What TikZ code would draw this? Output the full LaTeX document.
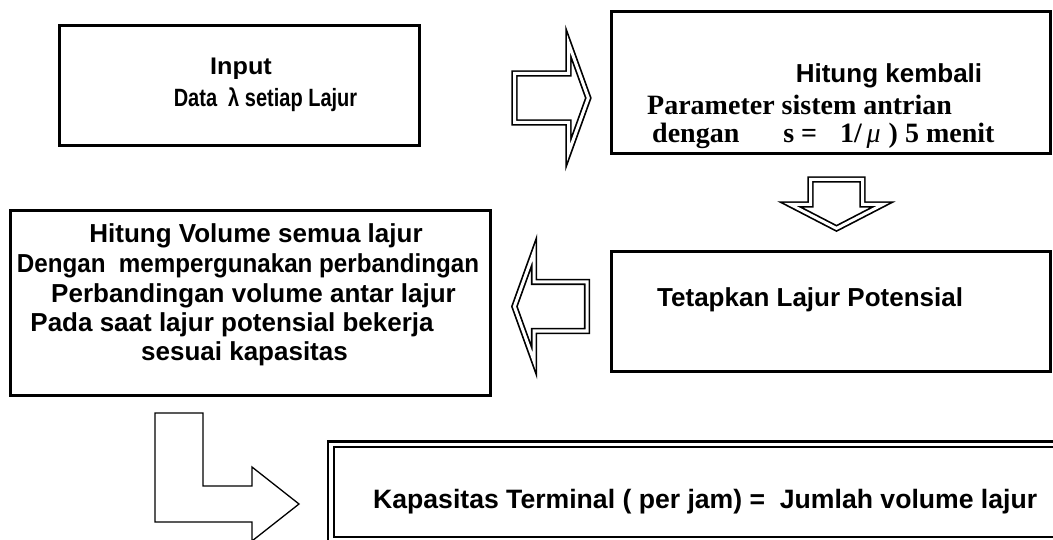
\documentclass[tikz,border=0pt]{standalone}
\usepackage{fontspec}
\setmainfont{Liberation Sans}
\newfontfamily\timesfont{Liberation Serif}
\usepackage{graphicx}

\newcommand{\widen}[2]{\scalebox{#1}[1]{#2}}

\tikzset{
    box/.style={draw, line width=3pt},
    hollowarrow/.style={draw, double, line width=1.7pt, double distance=3pt, line join=miter},
    bentarrow/.style={draw, line width=1.3pt, line join=miter},
    lbl/.style={inner sep=0pt, anchor=base, font=\bfseries\fontsize{26}{30}\selectfont},
    tlbl/.style={inner sep=0pt, anchor=base west, font=\timesfont\bfseries\fontsize{28}{32}\selectfont},
}

\begin{document}
\begin{tikzpicture}[x=1pt, y=-1pt]
    \useasboundingbox (0,0) rectangle (1053,540);
    \clip (0,0) rectangle (1053,540);

    % Boxes
    \draw[box] (59,25.5) rectangle (419,146);
    \draw[box] (611,12) rectangle (1050,154);
    \draw[box] (611,251.5) rectangle (1050,371);
    \draw[box] (10.5,211) rectangle (490.5,395);

    % Double frame, runs off the page
    \draw[line width=2.3pt] (328,441.5) rectangle (1070,545);
    \draw[line width=2pt] (333.7,446.7) rectangle (1062,537.3);

    % Hollow arrows
    \draw[hollowarrow] (514.5,73.5) -- (568.5,73.5) -- (568.5,43) -- (588.3,98)
        -- (568.5,153) -- (568.5,122.5) -- (514.5,122.5) -- cycle;
    \draw[hollowarrow] (810.5,179.5) -- (862.5,179.5) -- (862.5,204.5) -- (882.7,204.5)
        -- (836.5,228.4) -- (790.3,204.5) -- (810.5,204.5) -- cycle;
    \draw[hollowarrow] (587,282) -- (534,282) -- (534,252) -- (514.4,306.5)
        -- (534,361) -- (534,331) -- (587,331) -- cycle;

    % Bent arrow
    \draw[bentarrow] (155,413) -- (203,413) -- (203,486) -- (252,486) -- (252,467)
        -- (299,504) -- (252,541) -- (252,522) -- (155,522) -- cycle;

    % Input
    \node[lbl] (inTitle) at (241,75) {\fontsize{24}{28}\selectfont\widen{1.05}{Input}};
    \node[lbl] (inData) at (265.5,107) {\fontsize{25}{29}\selectfont\widen{0.8}{Data\ \ λ setiap Lajur}};

    % Hitung kembali
    \node[lbl] (hkTitle) at (889,83) {Hitung kembali};
    \node[tlbl] (hkParam) at (647,115) {Parameter sistem antrian};
    \node[tlbl] (hkRate) at (652,143) {dengan\hspace{44pt}s = \hspace{16pt}1/\,{\mdseries\itshape μ}\hspace{8pt}) 5 menit};

    % Lajur potensial
    \node[lbl, anchor=base west] (potLane) at (657,307) {Tetapkan Lajur Potensial};

    % Volume
    \node[lbl] (volTitle) at (256,243) {Hitung Volume semua lajur};
    \node[lbl] (volRatio) at (248,273) {\widen{0.93}{Dengan\ \ mempergunakan perbandingan}};
    \node[lbl] (volLanes) at (253.5,302) {Perbandingan volume antar lajur};
    \node[lbl] (volWork) at (232,331) {Pada saat lajur potensial bekerja};
    \node[lbl] (volCap) at (244.5,360) {sesuai kapasitas};

    % Kapasitas
    \node[lbl, anchor=base west] (kapTotal) at (373,508) {\fontsize{26.6}{30}\selectfont Kapasitas Terminal ( per jam) =\ \ Jumlah volume lajur};
\end{tikzpicture}
\end{document}
